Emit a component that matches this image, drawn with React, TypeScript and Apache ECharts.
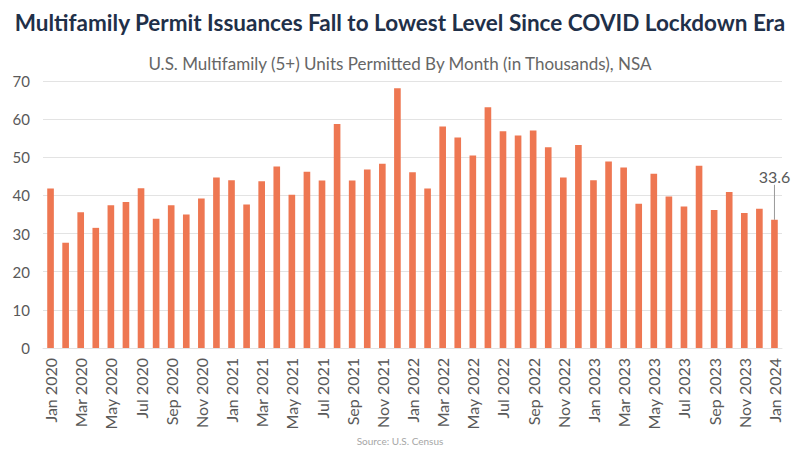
import React, { useEffect, useRef } from "react";
import * as echarts from "echarts";

const months = ["Jan", "Feb", "Mar", "Apr", "May", "Jun", "Jul", "Aug", "Sep", "Oct", "Nov", "Dec"];
const categories: string[] = [];
for (let y = 2020; y <= 2024; y++) {
  for (const m of months) {
    if (y === 2024 && m !== "Jan") break;
    categories.push(`${m} ${y}`);
  }
}

const permits = [
  41.8, 27.6, 35.6, 31.5, 37.4, 38.3, 41.9, 33.9, 37.4, 35.0, 39.2, 44.7,
  44.0, 37.6, 43.7, 47.6, 40.2, 46.2, 43.9, 58.7, 43.9, 46.8, 48.3, 68.1,
  46.1, 41.8, 58.1, 55.2, 50.5, 63.1, 56.8, 55.7, 57.0, 52.6, 44.7, 53.2,
  44.0, 48.9, 47.3, 37.8, 45.7, 39.7, 37.1, 47.8, 36.2, 40.9, 35.4, 36.5,
  33.6,
];

const titleText = "Multifamily Permit Issuances Fall to Lowest Level Since COVID Lockdown Era";
const subtitleText = "U.S. Multifamily (5+) Units Permitted By Month (in Thousands), NSA";
const sourceText = "Source: U.S. Census";

export default function App() {
  const ref = useRef<HTMLDivElement>(null);
  useEffect(() => {
    if (!ref.current) return;
    const chart = echarts.init(ref.current, null, { renderer: "svg" });
    const last = permits.length - 1;
    chart.setOption({
      animation: false,
      textStyle: { fontFamily: "Lato" },
      title: [
        {
          text: titleText,
          left: "center",
          top: 6,
          textStyle: { fontFamily: "Lato", fontSize: 22.5, fontWeight: "bold", color: "#1f3049" },
        },
        {
          text: subtitleText,
          left: "center",
          top: 50,
          textStyle: { fontFamily: "Lato", fontSize: 17, fontWeight: "normal", color: "#666666" },
        },
        {
          text: sourceText,
          left: "center",
          top: 431,
          textStyle: { fontFamily: "Lato", fontSize: 10, fontWeight: "normal", color: "#a6a6a6" },
        },
      ],
      grid: { left: 43, right: 18, top: 81, bottom: 105, containLabel: false },
      xAxis: {
        type: "category",
        data: categories,
        axisLine: { show: true, lineStyle: { color: "#e3e3e3" } },
        axisTick: { show: false },
        axisLabel: {
          interval: 1,
          rotate: 90,
          margin: 10,
          fontFamily: "Lato",
          fontSize: 16,
          color: "#595959",
        },
      },
      yAxis: {
        type: "value",
        min: 0,
        max: 70,
        interval: 10,
        axisLine: { show: false },
        axisTick: { show: false },
        splitLine: { lineStyle: { color: "#e3e3e3" } },
        axisLabel: { margin: 13, fontFamily: "Lato", fontSize: 15, color: "#595959" },
      },
      series: [
        {
          type: "bar",
          barWidth: "44%",
          itemStyle: { color: "#ee7752" },
          data: permits.map((v, i) =>
            i === last
              ? {
                  value: v,
                  label: {
                    show: true,
                    position: "top",
                    distance: 4,
                    fontFamily: "Lato",
                    fontSize: 16,
                    color: "#595959",
                  },
                  labelLine: { show: true, lineStyle: { color: "#999999", width: 1 } },
                }
              : v
          ),
          labelLayout: (p: any) => (p.dataIndex === last ? { dy: -31 } : {}),
          labelLine: { show: false },
        },
      ],
    });
    return () => chart.dispose();
  }, []);
  return (
    <div
      ref={ref}
      style={{ position: "fixed", left: 0, top: 0, width: 800, height: 453, background: "#ffffff" }}
    />
  );
}
